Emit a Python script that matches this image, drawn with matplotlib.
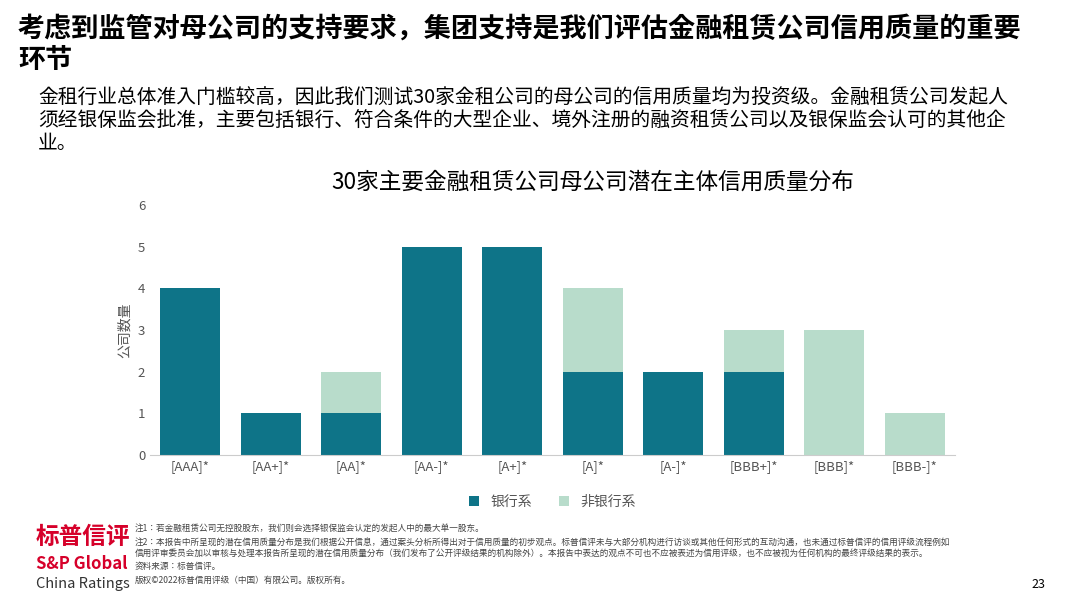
import matplotlib
matplotlib.use('Agg')
import matplotlib.pyplot as plt
from matplotlib import font_manager
import numpy as np

cjk = [f.name for f in font_manager.fontManager.ttflist if 'CJK' in f.name]
pref = [n for n in ['Noto Sans CJK SC', 'Noto Sans CJK JP', 'Noto Sans CJK TC', 'Noto Sans CJK KR'] if n in cjk] or cjk
plt.rcParams['font.family'] = 'sans-serif'
plt.rcParams['font.sans-serif'] = pref[:1] + ['DejaVu Sans']

ratings = ['[AAA]*', '[AA+]*', '[AA]*', '[AA-]*', '[A+]*', '[A]*', '[A-]*', '[BBB+]*', '[BBB]*', '[BBB-]*']
bank = [4, 1, 1, 5, 5, 2, 2, 2, 0, 0]
non_bank = [0, 0, 1, 0, 0, 2, 0, 1, 3, 1]

c_bank = '#0e7488'
c_non = '#b8dccb'

fig = plt.figure(figsize=(10.8, 6.08), dpi=100)
W, H = 1080, 608

fig.text(18/W, 1 - 44/H, '考虑到监管对母公司的支持要求，集团支持是我们评估金融租赁公司信用质量的重要\n环节',
         fontsize=19.5, fontweight='bold', va='center', linespacing=1.15)
fig.text(38/W, 1 - 121/H, '金租行业总体准入门槛较高，因此我们测试30家金租公司的母公司的信用质量均为投资级。金融租赁公司发起人\n'
         '须经银保监会批准，主要包括银行、符合条件的大型企业、境外注册的融资租赁公司以及银保监会认可的其他企\n业。',
         fontsize=14.2, va='center', linespacing=1.12)

ax = fig.add_axes([150/W, 1 - 455/H, 805/W, 250/H])
x = np.arange(len(ratings))
ax.bar(x, bank, width=0.75, color=c_bank, label='银行系')
ax.bar(x, non_bank, width=0.75, bottom=bank, color=c_non, label='非银行系')
ax.set_xlim(-0.5, len(ratings) - 0.5)
ax.set_ylim(0, 6)
ax.set_yticks(range(7))
ax.set_xticks(x)
ax.set_xticklabels(ratings)
ax.tick_params(labelsize=9.5, colors='#555555', length=0)
for s in ['top', 'right', 'left']:
    ax.spines[s].set_visible(False)
ax.spines['bottom'].set_color('#cccccc')
ax.set_ylabel('公司数量', fontsize=10, color='#555555')
ax.set_title('30家主要金融租赁公司母公司潜在主体信用质量分布', fontsize=16.3, pad=12, x=0.55)
ax.legend(loc='upper center', bbox_to_anchor=(0.5, -0.11), ncol=2, frameon=False,
          fontsize=10, handlelength=0.7, handleheight=0.7, labelcolor='#555555')

fig.text(36/W, 1 - 537/H, '标普信评', fontsize=17, fontweight='bold', color='#d6002a', va='center')
fig.text(36/W, 1 - 564/H, 'S&P Global', fontsize=12, fontweight='bold', color='#d6002a', va='center')
fig.text(36/W, 1 - 584/H, 'China Ratings', fontsize=10.5, color='#333333', va='center')

notes = [
    (528, '注1：若金融租赁公司无控股股东，我们则会选择银保监会认定的发起人中的最大单一股东。'),
    (543, '注2：本报告中所呈现的潜在信用质量分布是我们根据公开信息，通过案头分析所得出对于信用质量的初步观点。标普信评未与大部分机构进行访谈或其他任何形式的互动沟通，也未通过标普信评的信用评级流程例如'),
    (553, '信用评审委员会加以审核与处理本报告所呈现的潜在信用质量分布（我们发布了公开评级结果的机构除外）。本报告中表达的观点不可也不应被表述为信用评级，也不应被视为任何机构的最终评级结果的表示。'),
    (566, '资料来源：标普信评。'),
    (580, '版权©2022标普信用评级（中国）有限公司。版权所有。'),
]
for yy, t in notes:
    fig.text(135/W, 1 - yy/H, t, fontsize=6.2, color='#444444', va='center')
fig.text(1045/W, 1 - 585/H, '23', fontsize=9, ha='right', va='center')

fig.savefig('out.png', dpi=100)
